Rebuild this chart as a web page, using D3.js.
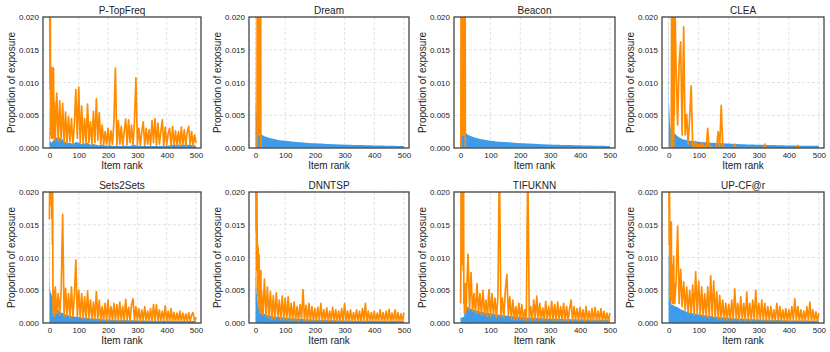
<!DOCTYPE html>
<html>
<head>
<meta charset="utf-8">
<script src="https://cdn.jsdelivr.net/npm/d3@7"></script>
<style>
  body { margin: 0; background: #fff; }
  text { font-family: "Liberation Sans", Arial, sans-serif; fill: #222; }
</style>
</head>
<body>
<div id="chart"></div>
<script>
const svgWidth = 830;
const svgHeight = 352;

// item ranks: every item for the first 20, then every 5th item
const expRank = d3.range(0, 20).concat(d3.range(20, 501, 5));
// ranks used for the popularity (blue) curves
const popRank = [0, 1, 2, 4, 6, 8, 10, 12, 15, 20, 25].concat(d3.range(30, 501, 10));

const xTicks = [0, 100, 200, 300, 400, 500];
const yTicks = [0, 5, 10, 15, 20]; // per mille, shown as proportion

const titles = ["P-TopFreq", "Dream", "Beacon", "CLEA", "Sets2Sets", "DNNTSP", "TIFUKNN", "UP-CF@r"];

// values are in units of 0.001 (per mille)
const topFreqExp = [
  25, 20, 9, 25, 2, 7, 1.5, 6, 12.3, 2, 8, 1.5, 6.5, 2, 12.2, 2.5, 1.5, 7, 1.2, 5,
  1.5, 8.4, 1, 7.2, 1.2, 6.8,
  0.8, 5.5, 0.7, 4.8, 1, 4.5, 0.6, 3.5, 8.9, 1.5,
  9.3, 0.8, 6.4, 0.6, 4.5, 0.7, 6.7, 0.8, 4, 0.5,
  5.6, 0.8, 7.5, 1.2, 5.4, 0.5, 3.5, 0.5, 2.5, 0.6,
  3, 0.4, 2.6, 0.6, 4, 12.2, 0.5, 4.2, 0.6, 3.3,
  0.4, 2.5, 4.4, 0.5, 4.3, 0.8, 3.5, 0.4, 4, 10.7,
  0.5, 3, 0.4, 2.5, 4, 0.4, 3, 0.6, 2.8, 0.4,
  4.2, 0.8, 4.5, 0.4, 3.8, 0.6, 2.5, 4.3, 0.3, 3.2,
  0.5, 2.2, 3, 0.3, 3.3, 0.5, 2.6, 0.4, 2.5, 0.3,
  3.2, 0.5, 2.8, 0.3, 2.4, 3.3, 0.5, 2.5, 0.3, 2,
  0.8
];
const topFreqPop = [
  6, 3, 1.2, 0.9, 0.8, 0.9, 1.0, 1.1, 1.3, 1.5, 1.6,
  1.6, 1.5, 1.1, 0.8, 0.8, 0.6, 0.9, 0.8, 0.6, 0.7,
  0.8, 0.5, 0.6, 0.5, 0.4, 0.5, 0.4, 0.4, 0.4, 0.3,
  0.4, 0.3, 0.3, 0.4, 0.3, 0.4, 0.5, 0.4, 0.3, 0.3,
  0.3, 0.3, 0.3, 0.3, 0.3, 0.3, 0.3, 0.4, 0.4, 0.5,
  0.5, 0.5, 0.5, 0.5, 0.5, 0.5, 0.4, 0.4
];

const dreamExp = [
  0, 0, 0, 0, 0, 0, 40, 2, 40, 2, 40, 2, 40, 2, 40, 2, 40, 40, 0, 0,
  0, 0, 0, 0, 0, 0, 0, 0, 0, 0, 0, 0, 0, 0, 0, 0, 0, 0, 0, 0,
  0, 0, 0, 0, 0, 0, 0, 0, 0, 0, 0, 0, 0, 0, 0, 0, 0, 0, 0, 0,
  0, 0, 0, 0, 0, 0, 0, 0, 0, 0, 0, 0, 0, 0, 0, 0, 0, 0, 0, 0,
  0, 0, 0, 0, 0, 0, 0, 0, 0, 0, 0, 0, 0, 0, 0, 0, 0, 0, 0, 0,
  0, 0, 0, 0, 0, 0, 0, 0, 0, 0, 0, 0, 0, 0, 0, 0, 0
];
const dreamPop = [
  25, 7, 6, 5, 4, 3.5, 3, 2.7, 2.3, 2.1, 1.9,
  1.8, 1.65, 1.5, 1.4, 1.3, 1.2, 1.15, 1.1, 1.05, 1.0,
  0.95, 0.9, 0.88, 0.85, 0.8, 0.77, 0.74, 0.72, 0.7, 0.67,
  0.65, 0.62, 0.6, 0.58, 0.56, 0.54, 0.52, 0.5, 0.49, 0.48,
  0.47, 0.46, 0.45, 0.44, 0.43, 0.42, 0.41, 0.4, 0.39, 0.38,
  0.37, 0.36, 0.35, 0.34, 0.33, 0.32, 0.31, 0.3
];

const beaconExp = [
  0, 0, 40, 2, 40, 2, 40, 2, 40, 2, 40, 2, 40, 2, 40, 40, 0, 0, 0, 0,
  0, 0, 0, 0, 0, 0, 0, 0, 0, 0, 0, 0, 0, 0, 0, 0, 0, 0, 0, 0,
  0, 0, 0, 0, 0, 0, 0, 0, 0, 0, 0, 0, 0, 0, 0, 0, 0, 0, 0, 0,
  0, 0, 0, 0, 0, 0, 0, 0, 0, 0, 0, 0, 0, 0, 0, 0, 0, 0, 0, 0,
  0, 0, 0, 0, 0, 0, 0, 0, 0, 0, 0, 0, 0, 0, 0, 0, 0, 0, 0, 0,
  0, 0, 0, 0, 0, 0, 0, 0, 0, 0, 0, 0, 0, 0, 0, 0, 0
];
const beaconPop = [
  4, 3, 3, 3, 3, 3, 3, 3, 2.5, 2.2, 2.0,
  1.9, 1.7, 1.55, 1.45, 1.35, 1.25, 1.2, 1.1, 1.05, 1.0,
  0.97, 0.93, 0.9, 0.86, 0.83, 0.8, 0.77, 0.74, 0.72, 0.7,
  0.67, 0.65, 0.63, 0.61, 0.59, 0.57, 0.55, 0.53, 0.51, 0.5,
  0.48, 0.47, 0.46, 0.45, 0.44, 0.43, 0.42, 0.41, 0.4, 0.39,
  0.38, 0.37, 0.36, 0.35, 0.34, 0.33, 0.32, 0.32
];

const cleaExp = [
  0, 0, 0, 0, 0, 0, 0, 0, 0, 0, 25, 0, 25, 10, 25, 3, 19, 0, 25, 5,
  25, 12, 3.5, 13, 16.2, 2, 18.5, 2, 5.1, 0.5, 4.5, 9.5, 0.5, 0, 1, 0,
  0.5, 0, 0.8, 0, 0.3, 0, 3, 0, 0.3, 0,
  0, 0, 0.3, 2.5, 0, 6.5, 0.4, 0, 0, 0,
  0, 0, 0, 0, 0.6, 0, 0, 0, 0, 0,
  0, 0, 0, 0, 0, 0, 0, 0, 0, 0,
  0, 0, 0, 0, 0.6, 0, 0, 0, 0, 0,
  0, 0, 0, 0, 0, 0, 0, 0, 0, 0,
  0, 0, 0, 0, 0, 0, 0.4, 0, 0, 0,
  0, 0, 0, 0, 0, 0, 0, 0, 0, 0,
  0
];
const cleaPop = [
  25, 6.8, 6.5, 4, 3, 2.8, 2.7, 2.6, 2.5, 2.3, 2.0,
  1.8, 1.5, 1.3, 1.2, 1.1, 1.05, 1.0, 0.95, 0.9, 0.88,
  0.85, 0.82, 0.8, 0.78, 0.75, 0.72, 0.7, 0.68, 0.65, 0.62,
  0.6, 0.58, 0.56, 0.55, 0.54, 0.52, 0.5, 0.5, 0.48, 0.47,
  0.46, 0.45, 0.44, 0.43, 0.42, 0.41, 0.4, 0.4, 0.39, 0.38,
  0.37, 0.36, 0.35, 0.35, 0.34, 0.34, 0.33, 0.33
];

const sets2setsExp = [
  15.8, 25, 20, 25, 18, 25, 21, 25, 16, 25, 12, 20.5, 3, 1.5, 5, 1.2, 4.5, 1, 4.5, 1.5,
  5.5, 1.5, 4.5, 1.2, 5, 16.6,
  1, 5.3, 1.2, 4.5, 0.8, 5.5, 1, 4, 9.6, 1,
  5, 0.8, 4.5, 0.7, 4, 0.6, 4.9, 0.8, 3.5, 0.5,
  3.2, 0.6, 4.8, 0.5, 3.5, 0.4, 2.5, 0.5, 3, 0.4,
  3.5, 0.4, 2.5, 0.5, 3, 0.4, 2.8, 0.3, 3.2, 0.4,
  2.5, 0.4, 3.6, 0.5, 2.4, 0.3, 2.8, 3.7, 0.4, 2.5,
  0.4, 2.2, 0.3, 2, 0.4, 2.5, 0.3, 1.8, 0.4, 2.2,
  0.3, 2.8, 0.4, 2.8, 0.3, 2, 0.3, 1.8, 0.4, 2.6,
  0.3, 1.8, 0.3, 2.2, 0.3, 1.6, 0.2, 1.5, 0.3, 1.8,
  0.2, 1.5, 0.3, 1.4, 0.2, 1.6, 0.3, 1.2, 1.6, 0.2,
  0.9
];
const sets2setsPop = [
  15.5, 6.2, 5, 4.6, 4.5, 4.2, 3.8, 3.5, 3.2, 2.8, 2.3,
  2.0, 1.6, 1.4, 1.2, 1.1, 1.0, 0.95, 0.9, 0.85, 0.8,
  0.75, 0.7, 0.68, 0.65, 0.6, 0.58, 0.55, 0.52, 0.5, 0.48,
  0.47, 0.46, 0.45, 0.44, 0.43, 0.42, 0.41, 0.4, 0.39, 0.38,
  0.37, 0.36, 0.36, 0.35, 0.35, 0.34, 0.34, 0.33, 0.33, 0.32,
  0.32, 0.31, 0.31, 0.31, 0.3, 0.3, 0.3, 0.3
];

const dnntspExp = [
  25, 22, 14, 25, 8, 20, 5, 12, 4, 11.5, 3, 8.5, 10.4, 2, 7, 1.5, 6, 1.5, 8, 1.5,
  5, 1.2, 6.7, 1, 5.5, 0.8,
  4.8, 0.6, 4.2, 0.7, 4.6, 0.8, 3.5, 0.5, 4.1, 0.6,
  3.8, 0.5, 4, 0.4, 3, 0.5, 3.2, 0.4, 2.5, 0.3,
  2.8, 0.5, 5.1, 0.4, 2.7, 0.3, 3, 0.3, 2.5, 0.4,
  2.2, 0.3, 2.4, 0.4, 3, 0.3, 2, 0.3, 2.3, 0.2,
  1.8, 0.4, 2.4, 0.2, 2, 0.3, 1.8, 0.2, 2.2, 0.3,
  3, 0.2, 1.8, 0.3, 2, 0.2, 1.6, 0.3, 2, 0.2,
  1.8, 0.2, 2.2, 0.3, 3, 0.2, 1.8, 0.2, 1.6, 0.3,
  1.8, 0.2, 1.5, 0.3, 2, 0.2, 1.6, 0.2, 1.8, 0.2,
  2.1, 0.2, 1.5, 0.3, 2, 0.2, 1.6, 0.2, 1.4, 0.2,
  1.6
];
const dnntspPop = [
  25, 7.5, 6, 4.5, 3.8, 3, 2.6, 2.3, 2.0, 1.7, 1.5,
  1.4, 1.2, 1.1, 1.0, 0.95, 0.9, 0.85, 0.8, 0.76, 0.72,
  0.68, 0.65, 0.62, 0.6, 0.58, 0.55, 0.53, 0.5, 0.48, 0.46,
  0.45, 0.44, 0.43, 0.42, 0.41, 0.4, 0.39, 0.38, 0.37, 0.36,
  0.36, 0.35, 0.35, 0.34, 0.34, 0.33, 0.33, 0.32, 0.32, 0.31,
  0.31, 0.31, 0.3, 0.3, 0.3, 0.3, 0.3, 0.3
];

const tifuknnExp = [
  3, 8, 25, 12, 25, 9, 25, 10, 25, 8, 25, 3, 4.5, 1.5, 5.5, 2, 6, 1.5, 5, 2,
  4.5, 10.5, 2, 7.7, 1.8, 4.5,
  1.5, 6, 1.5, 4.5, 1.2, 5, 1.2, 3.5, 1, 5.1,
  1, 4.5, 1.2, 3.8, 0.8, 4, 25, 1, 3.8, 0.8,
  5.1, 7.4, 1.2, 4, 0.6, 3.5, 0.6, 2.5, 0.5, 3,
  0.6, 2.8, 0.5, 2, 0.4, 25, 0.5, 2.5, 0.4, 3.5,
  0.5, 4.1, 0.4, 3, 0.5, 2.3, 0.4, 3.3, 0.5, 2.5,
  0.5, 3.3, 0.4, 2.8, 0.4, 3.2, 0.5, 2.5, 0.4, 3,
  0.4, 2.5, 0.3, 2.2, 3.5, 0.4, 2.5, 0.5, 2.2, 0.3,
  2.4, 0.4, 2, 0.3, 2.5, 0.4, 1.8, 0.3, 2.2, 0.3,
  2.4, 0.3, 1.8, 0.4, 2.2, 0.3, 1.8, 0.3, 1.5, 0.3,
  1.5
];
const tifuknnPop = [
  0.8, 0.8, 0.8, 0.8, 0.8, 0.9, 0.9, 1.0, 2.8, 2.6, 2.4,
  2.3, 2.1, 1.9, 1.8, 1.7, 1.6, 1.55, 1.5, 1.4, 1.3,
  1.25, 1.2, 1.15, 1.1, 1.05, 1.0, 0.95, 0.9, 0.88, 0.85,
  0.82, 0.8, 0.77, 0.75, 0.72, 0.7, 0.68, 0.66, 0.64, 0.62,
  0.61, 0.6, 0.59, 0.58, 0.57, 0.56, 0.55, 0.54, 0.53, 0.53,
  0.52, 0.52, 0.51, 0.51, 0.5, 0.5, 0.5, 0.5
];

const upcfExp = [
  25, 25, 12, 25, 4, 9, 3.5, 8, 3.5, 15.4, 4, 9, 3, 7, 3, 6, 3, 10.2, 3, 6,
  3, 6.5, 14.8, 3, 8.2, 2.5,
  6.3, 2, 5.5, 1.5, 5, 1.5, 5.8, 1.2, 7.8, 1.5,
  6.4, 1.2, 5.5, 1, 4.5, 1, 5.5, 0.8, 7.2, 1,
  6.4, 0.8, 4.8, 0.6, 4.2, 0.6, 3.5, 0.5, 3, 0.5,
  2.8, 0.4, 3.5, 0.5, 5.2, 0.6, 3, 0.4, 4, 0.5,
  3, 0.4, 4.7, 0.5, 3, 0.4, 3.5, 0.5, 5, 0.4,
  3, 0.5, 3.5, 0.4, 3, 0.4, 2.5, 0.4, 2.5, 0.3,
  2, 0.4, 3, 0.3, 2.5, 0.3, 2, 0.4, 2.2, 0.3,
  2, 0.3, 2.5, 0.4, 3.7, 0.4, 2.5, 0.3, 2, 0.3,
  1.8, 0.3, 2.5, 0.4, 3.2, 0.3, 2, 0.3, 1.7, 0.3,
  1.5
];
const upcfPop = [
  10.3, 10.3, 10.3, 10.3, 10, 2.9, 2.8, 2.8, 2.7, 2.6, 2.5,
  2.4, 2.1, 1.9, 1.7, 1.6, 1.5, 1.4, 1.3, 1.25, 1.2,
  1.1, 1.05, 1.0, 0.95, 0.9, 0.85, 0.8, 0.75, 0.72, 0.7,
  0.67, 0.64, 0.62, 0.6, 0.58, 0.56, 0.54, 0.52, 0.5, 0.49,
  0.48, 0.47, 0.46, 0.45, 0.44, 0.43, 0.42, 0.41, 0.4, 0.4,
  0.39, 0.38, 0.38, 0.37, 0.36, 0.36, 0.35, 0.35
];

const expSeries = [topFreqExp, dreamExp, beaconExp, cleaExp, sets2setsExp, dnntspExp, tifuknnExp, upcfExp];
const popSeries = [topFreqPop, dreamPop, beaconPop, cleaPop, sets2setsPop, dnntspPop, tifuknnPop, upcfPop];

expSeries.forEach((s, i) => {
  if (s.length !== expRank.length) throw new Error(titles[i] + " exp length " + s.length + " != " + expRank.length);
});
popSeries.forEach((s, i) => {
  if (s.length !== popRank.length) throw new Error(titles[i] + " pop length " + s.length + " != " + popRank.length);
});

// layout of the 2x4 grid
const colLeft = [43, 249, 454, 662];
const colRight = [201, 409, 615, 824];
const rowTop = [17, 192];
const rowBottom = [148, 323];

const blue = "#3d9be9";
const orange = "#ff8c00";

const svg = d3.select("#chart")
  .append("svg")
  .attr("width", svgWidth)
  .attr("height", svgHeight);

titles.forEach((title, i) => {
  const col = i % 4;
  const row = Math.floor(i / 4);
  const left = colLeft[col], right = colRight[col];
  const top = rowTop[row], bottom = rowBottom[row];

  const x = d3.scaleLinear().domain([-22, 517]).range([left, right]);
  const y = d3.scaleLinear().domain([0, 20]).range([bottom, top]);

  const g = svg.append("g");

  // grid
  g.selectAll(".vgrid")
    .data(xTicks)
    .enter()
    .append("line")
    .attr("x1", d => x(d)).attr("x2", d => x(d))
    .attr("y1", top).attr("y2", bottom)
    .attr("stroke", "#dcdcdc")
    .attr("stroke-width", 0.8)
    .attr("stroke-dasharray", "3,2");
  g.selectAll(".hgrid")
    .data(yTicks)
    .enter()
    .append("line")
    .attr("x1", left).attr("x2", right)
    .attr("y1", d => y(d)).attr("y2", d => y(d))
    .attr("stroke", "#dcdcdc")
    .attr("stroke-width", 0.8)
    .attr("stroke-dasharray", "3,2");

  const clipId = "clip" + i;
  svg.append("clipPath").attr("id", clipId)
    .append("rect")
    .attr("x", left).attr("y", top)
    .attr("width", right - left).attr("height", bottom - top);

  const plot = g.append("g").attr("clip-path", `url(#${clipId})`);

  const pop = popRank.map((r, k) => ({ r: r, v: popSeries[i][k] }));
  const exp = expRank.map((r, k) => ({ r: r, v: expSeries[i][k] }));

  plot.append("path")
    .datum(pop)
    .attr("fill", blue)
    .attr("d", d3.area().x(d => x(d.r)).y0(y(0)).y1(d => y(d.v)));

  plot.append("path")
    .datum(exp)
    .attr("fill", "none")
    .attr("stroke", orange)
    .attr("stroke-width", 1.7)
    .attr("stroke-linejoin", "round")
    .attr("d", d3.line().x(d => x(d.r)).y(d => y(d.v)));

  // axes (labels only, no tick marks)
  const yAxis = g.append("g")
    .attr("transform", `translate(${left}, 0)`)
    .call(d3.axisLeft(y).tickValues(yTicks).tickSize(0).tickPadding(4)
      .tickFormat(d => (d / 1000).toFixed(3)));
  const xAxis = g.append("g")
    .attr("transform", `translate(0, ${bottom})`)
    .call(d3.axisBottom(x).tickValues(xTicks).tickSize(0).tickPadding(4));
  [xAxis, yAxis].forEach(a => {
    a.select(".domain").remove();
    a.selectAll("text")
      .style("font-family", '"Liberation Sans", Arial, sans-serif')
      .style("font-size", "8px")
      .attr("fill", "#222");
  });

  // frame
  g.append("rect")
    .attr("x", left).attr("y", top)
    .attr("width", right - left).attr("height", bottom - top)
    .attr("fill", "none")
    .attr("stroke", "#444")
    .attr("stroke-width", 1.3);

  g.append("text")
    .attr("x", (left + right) / 2)
    .attr("y", top - 3.5)
    .attr("text-anchor", "middle")
    .style("font-size", "10px")
    .text(title);

  g.append("text")
    .attr("x", (left + right) / 2)
    .attr("y", bottom + 20.5)
    .attr("text-anchor", "middle")
    .style("font-size", "10px")
    .text("Item rank");

  g.append("text")
    .attr("transform", `translate(${left - 28}, ${(top + bottom) / 2}) rotate(-90)`)
    .attr("text-anchor", "middle")
    .style("font-size", "10px")
    .text("Proportion of exposure");
});
</script>
</body>
</html>
